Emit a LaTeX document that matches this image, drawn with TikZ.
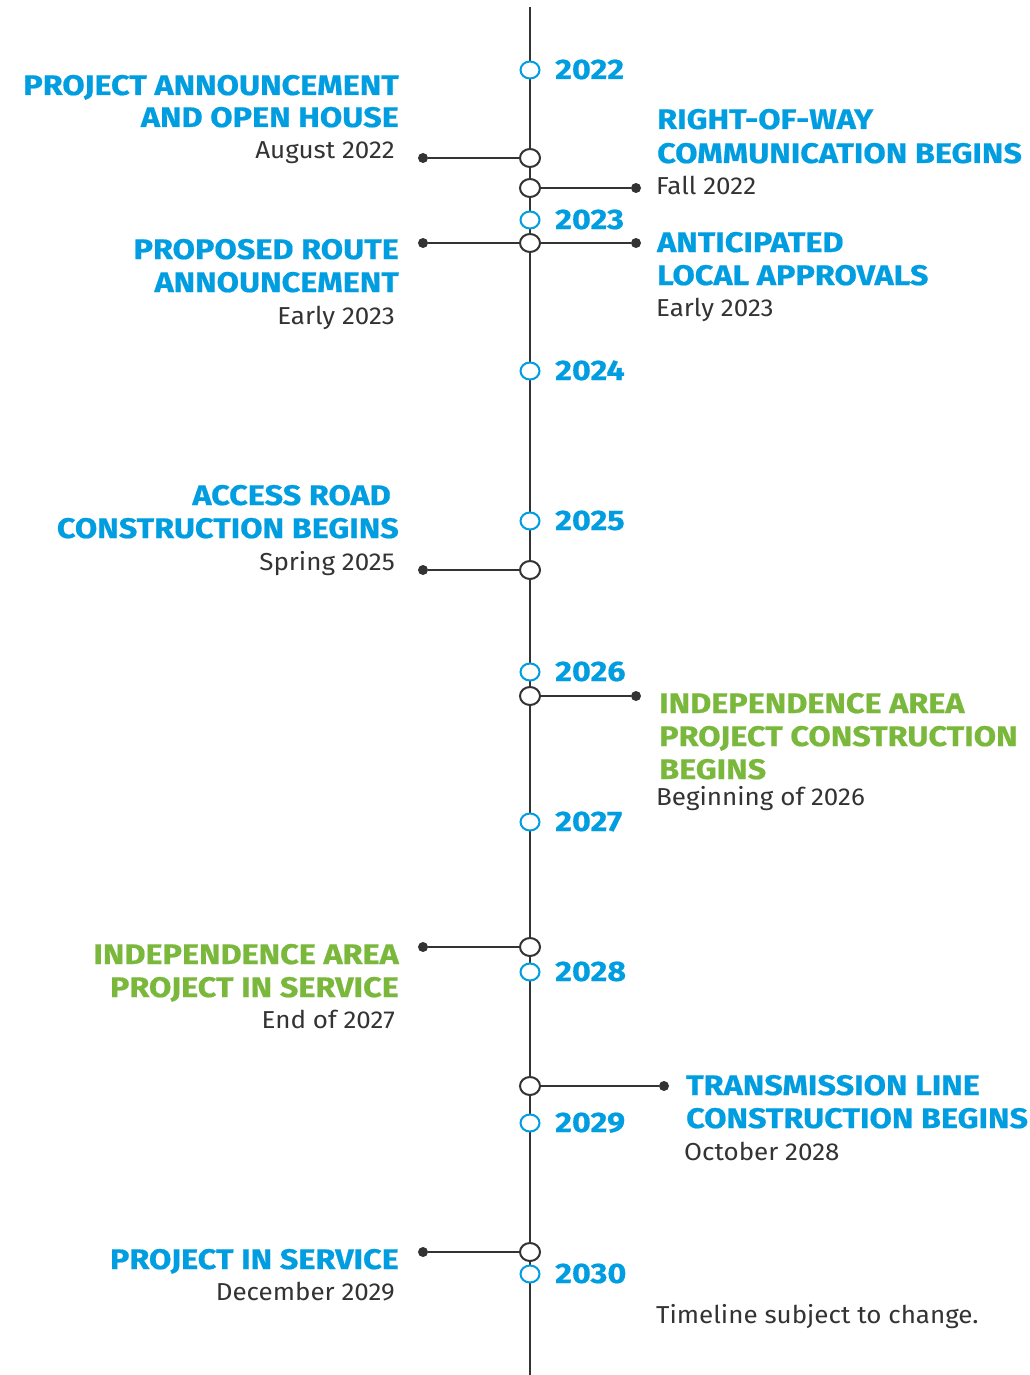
\documentclass[tikz,border=0pt]{standalone}
\usepackage{fontspec}
\setmainfont{Fira Sans}
\newfontfamily\headfont{Fira Sans}[FakeStretch=1.145,BoldFeatures={FakeBold=0.6}]
\newfontfamily\bodyfont{Fira Sans}[FakeStretch=1.06]
\usetikzlibrary{shapes.geometric}
\definecolor{tlblue}{RGB}{0,158,224}
\definecolor{tlgreen}{RGB}{122,184,60}
\definecolor{tldark}{RGB}{51,51,51}
\begin{document}
\begin{tikzpicture}[x=1pt,y=-1pt,
  yearmark/.style={ellipse,draw=tlblue,line width=2pt,fill=white,minimum width=19pt,minimum height=17pt,inner sep=0pt},
  eventmark/.style={ellipse,draw=tldark,line width=2pt,fill=white,minimum width=20pt,minimum height=18pt,inner sep=0pt},
  enddot/.style={circle,fill=tldark,minimum size=10pt,inner sep=0pt},
  conn/.style={draw=tldark,line width=2pt},
  yearlabel/.style={anchor=base west,inner sep=0pt,text=tlblue,font=\headfont\bfseries\fontsize{28.3}{30}\selectfont},
  headtext/.style={inner sep=0pt,font=\headfont\bfseries\fontsize{28.3}{30}\selectfont},
  hl/.style={headtext,anchor=base east,text=tlblue},
  hr/.style={headtext,anchor=base west,text=tlblue},
  gl/.style={headtext,anchor=base east,text=tlgreen},
  gr/.style={headtext,anchor=base west,text=tlgreen},
  datetext/.style={inner sep=0pt,text=tldark,font=\bodyfont\fontsize{24.5}{26}\selectfont},
  dl/.style={datetext,anchor=base east},
  dr/.style={datetext,anchor=base west}
]
\fill[white] (0,0) rectangle (1029,1375);
\useasboundingbox (0,0) rectangle (1029,1375);

% main axis
\coordinate (top) at (530,7);
\coordinate (bottom) at (530,1375);
\draw[conn] (top) -- (bottom);

% year marks
\foreach \yr/\yy in {2022/70,2023/220,2024/371,2025/521,2026/672,2027/822,2028/972,2029/1123,2030/1274}{
  \node[yearmark] (m\yr) at (530,\yy) {};
  \node[yearlabel] (l\yr) at (555,\yy+9) {\yr};
}

% event marks
\node[eventmark] (e1) at (530,158) {};
\node[eventmark] (e2) at (530,188) {};
\node[eventmark] (e3) at (530,243) {};
\node[eventmark] (e5) at (530,570) {};
\node[eventmark] (e6) at (530,696) {};
\node[eventmark] (e7) at (530,947) {};
\node[eventmark] (e8) at (530,1086) {};
\node[eventmark] (e9) at (530,1252) {};

% end dots
\node[enddot] (d1) at (423,158) {};
\node[enddot] (d2) at (636,188) {};
\node[enddot] (d3) at (423,243) {};
\node[enddot] (d4) at (636,243) {};
\node[enddot] (d5) at (423,570) {};
\node[enddot] (d6) at (636,696) {};
\node[enddot] (d7) at (423,947) {};
\node[enddot] (d8) at (664,1086) {};
\node[enddot] (d9) at (423,1252) {};

% connectors
\draw[conn] (d1) -- (e1);
\draw[conn] (e2) -- (d2);
\draw[conn] (d3) -- (e3);
\draw[conn] (e3) -- (d4);
\draw[conn] (d5) -- (e5);
\draw[conn] (e6) -- (d6);
\draw[conn] (d7) -- (e7);
\draw[conn] (e8) -- (d8);
\draw[conn] (d9) -- (e9);

% texts
\node[hl] (t1a) at (399,95) {PROJECT ANNOUNCEMENT};
\node[hl] (t1b) at (399,127) {AND OPEN HOUSE};
\node[dl] (t1c) at (395,159) {August 2022};

\node[hr] (t2a) at (657,129) {RIGHT-OF-WAY};
\node[hr] (t2b) at (657,163) {COMMUNICATION BEGINS};
\node[dr] (t2c) at (656,194) {Fall 2022};

\node[hl] (t3a) at (399,259) {PROPOSED ROUTE};
\node[hl] (t3b) at (399,292) {ANNOUNCEMENT};
\node[dl] (t3c) at (395,324) {Early 2023};

\node[hr] (t4a) at (657,252) {ANTICIPATED};
\node[hr] (t4b) at (657,285) {LOCAL APPROVALS};
\node[dr] (t4c) at (656,316) {Early 2023};

\node[hl] (t5a) at (391,505) {ACCESS ROAD};
\node[hl] (t5b) at (399,538) {CONSTRUCTION BEGINS};
\node[dl] (t5c) at (395,570) {Spring 2025};

\node[gr] (t6a) at (659,713) {INDEPENDENCE AREA};
\node[gr] (t6b) at (659,746) {PROJECT CONSTRUCTION};
\node[gr] (t6c) at (659,779) {BEGINS};
\node[dr] (t6d) at (656,805) {Beginning of 2026};

\node[gl] (t7a) at (399,964) {INDEPENDENCE AREA};
\node[gl] (t7b) at (399,997) {PROJECT IN SERVICE};
\node[dl] (t7c) at (395,1028) {End of 2027};

\node[hr] (t8a) at (686,1095) {TRANSMISSION LINE};
\node[hr] (t8b) at (686,1128) {CONSTRUCTION BEGINS};
\node[dr] (t8c) at (684,1160) {October 2028};

\node[hl] (t9a) at (399,1269) {PROJECT IN SERVICE};
\node[dl] (t9b) at (395,1300) {December 2029};

\node[dr] (note) at (656,1323) {Timeline subject to change.};
\end{tikzpicture}
\end{document}
